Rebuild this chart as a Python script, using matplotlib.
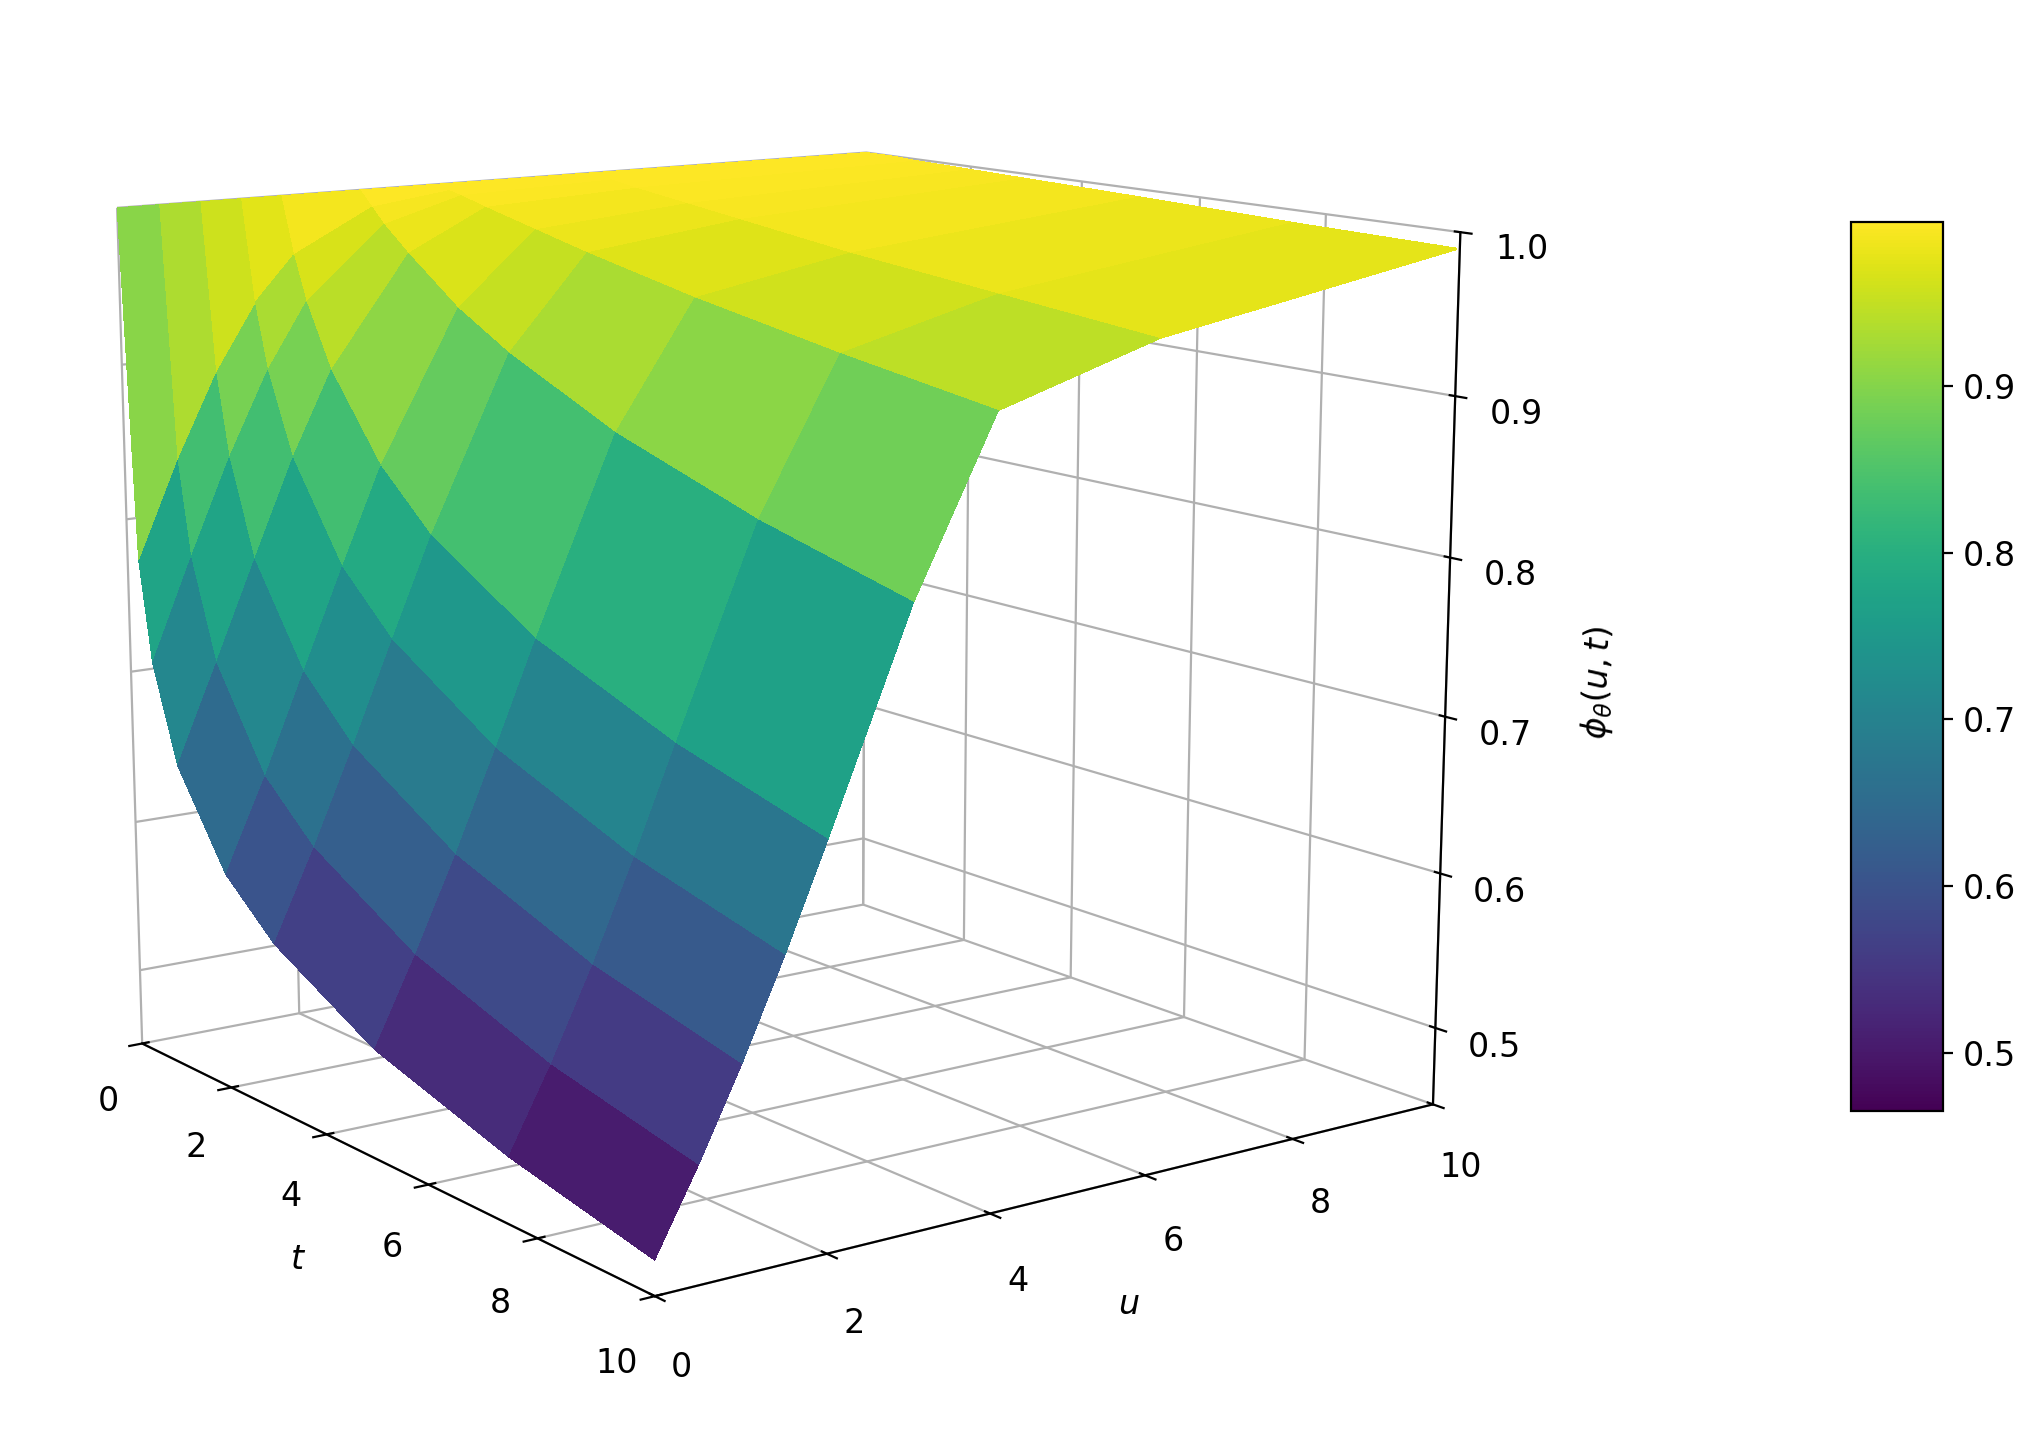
import numpy as np
import matplotlib
matplotlib.use("Agg")
import matplotlib.pyplot as plt

# grid axes (denser where the surface bends)
t_vals = [0, 0.25, 0.5, 1, 2, 3, 5, 7.5, 10]
u_vals = [0, 0.5, 1, 1.5, 2, 3, 4, 6, 10]

# phi_theta(u, t); one row per u, columns follow t_vals
phi_u0 = [1, .776, .711, .649, .590, .558, .519, .491, .471]
phi_u05 = [1, .838, .776, .712, .649, .615, .573, .541, .520]
phi_u1 = [1, .892, .838, .776, .713, .676, .631, .596, .573]
phi_u15 = [1, .934, .892, .839, .777, .740, .693, .656, .631]
phi_u2 = [1, .963, .934, .893, .839, .803, .757, .720, .693]
phi_u3 = [1, .990, .980, .964, .935, .913, .878, .846, .821]
phi_u4 = [1, .997, .995, .990, .981, .972, .956, .939, .924]
phi_u6 = [1, .999, .998, .995, .990, .985, .975, .965, .955]
phi_u10 = [1, 1, 1, .999, .998, .997, .995, .992, .990]

Z = np.array([phi_u0, phi_u05, phi_u1, phi_u15, phi_u2, phi_u3,
              phi_u4, phi_u6, phi_u10])
T, U = np.meshgrid(t_vals, u_vals)

fig = plt.figure(figsize=(10.195, 7.17), dpi=200)
ax = fig.add_axes([-0.03, 0.04, 0.8, 0.98], projection='3d')
ax.set_proj_type('persp', focal_length=0.6)
surf = ax.plot_surface(T, U, Z, cmap='viridis', linewidth=0, antialiased=False,
                       vmin=0.465, vmax=0.998)
ax.view_init(elev=12, azim=-36)
ax.set_box_aspect((1.08, 1.08, 1.0), zoom=1.1)
ax.set_xlim(0, 10)
ax.set_ylim(0, 10)
ax.set_zlim(0.45, 1.0)
ax.set_xticks([0, 2, 4, 6, 8, 10])
ax.set_yticks([0, 2, 4, 6, 8, 10])
ax.set_zticks([0.5, 0.6, 0.7, 0.8, 0.9, 1.0])
ax.tick_params(labelsize=12)
ax.set_xlabel('$t$', fontsize=12)
ax.set_ylabel('$u$', fontsize=12)
ax.zaxis.set_ticks_position('upper')
ax.zaxis.set_label_position('upper')
ax.set_zlabel(r'$\phi_\theta(u,t)$', labelpad=8, fontsize=12)
for a in (ax.xaxis, ax.yaxis, ax.zaxis):
    a.set_pane_color((1, 1, 1, 0))

cax = fig.add_axes([0.908, 0.225, 0.045, 0.62])
cb = fig.colorbar(surf, cax=cax, ticks=[0.5, 0.6, 0.7, 0.8, 0.9])
cb.ax.tick_params(labelsize=12)

fig.savefig('out.png', dpi=200)
